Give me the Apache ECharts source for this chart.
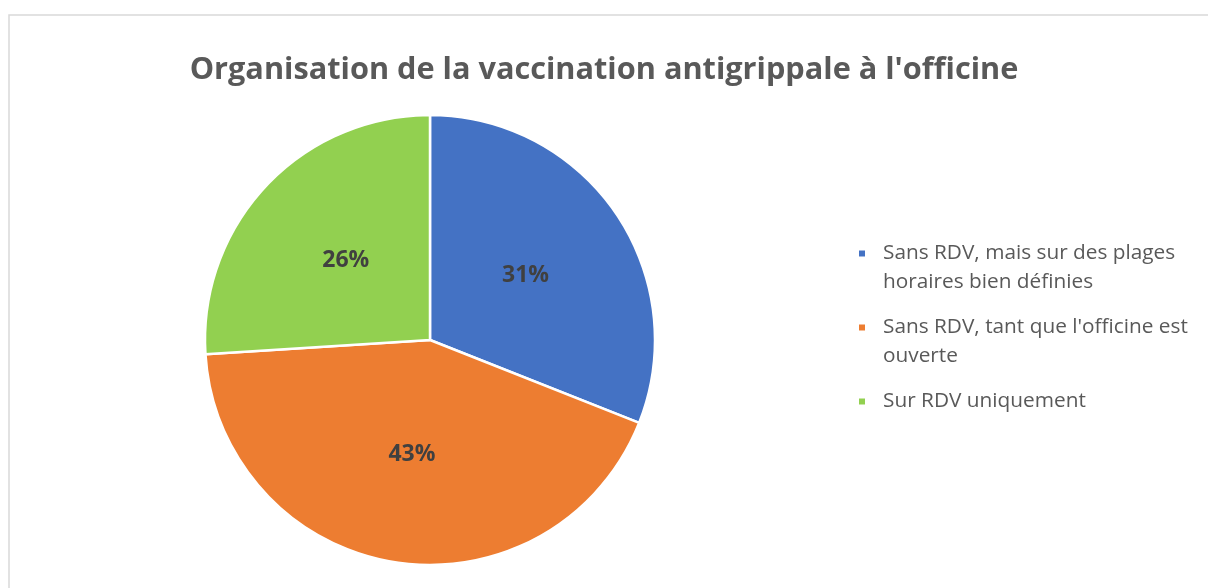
<!DOCTYPE html>
<html>
<head>
<meta charset="utf-8">
<script src="https://cdn.jsdelivr.net/npm/echarts@6/dist/echarts.min.js"></script>
<style>
    html, body { margin: 0; padding: 0; background: #fff; }
    #chart { width: 1208px; height: 588px; }
</style>
</head>
<body>
<div id="chart"></div>
<script>
// 数据
const categories = [
    'Sans RDV, mais sur des plages horaires bien définies',
    "Sans RDV, tant que l'officine est ouverte",
    'Sur RDV uniquement'
];
// 图例换行（空行用于让图标对齐第一行）
const legendLabels = [
    ' \nSans RDV, mais sur des plages\nhoraires bien définies',
    " \nSans RDV, tant que l'officine est\nouverte",
    ' \nSur RDV uniquement\n '
];
const values = [31, 43, 26];
const colors = ['#4472C4', '#ED7D31', '#92D050'];

const chart = echarts.init(document.getElementById('chart'));

const option = {
    animation: false,
    title: {
        text: "Organisation de la vaccination antigrippale à l'officine",
        left: 'center',
        top: 50,
        textStyle: {
            fontFamily: 'Open Sans',
            fontSize: 30.7,
            fontWeight: 'bold',
            color: '#595959'
        }
    },
    graphic: [{
        type: 'rect',
        shape: { x: 9, y: 15, width: 1400, height: 800 },
        style: { fill: 'none', stroke: '#d9d9d9', lineWidth: 1.5 },
        silent: true,
        z: -10
    }],
    legend: {
        orient: 'vertical',
        left: 857,
        top: 210,
        padding: 0,
        itemGap: -13,
        itemWidth: 8,
        itemHeight: 8,
        icon: 'rect',
        selectedMode: false,
        formatter: name => legendLabels[categories.indexOf(name)],
        textStyle: {
            fontFamily: 'Open Sans',
            fontSize: 20.8,
            lineHeight: 29,
            color: '#595959',
            padding: [0, 0, 0, 12]
        },
        data: categories
    },
    series: [{
        type: 'pie',
        center: [430, 340],
        radius: [0, 225],
        startAngle: 90,
        clockwise: true,
        label: {
            position: 'inside',
            formatter: '{c}%',
            fontFamily: 'Open Sans',
            fontSize: 23,
            fontWeight: 'bold',
            color: '#404040'
        },
        labelLine: { show: false },
        itemStyle: {
            borderColor: '#fff',
            borderWidth: 2.5
        },
        emphasis: { disabled: true },
        data: categories.map((name, i) => ({
            name: name,
            value: values[i],
            itemStyle: { color: colors[i] }
        }))
    }]
};

chart.setOption(option);

window.addEventListener('resize', function() {
    chart.resize();
});
</script>
</body>
</html>
